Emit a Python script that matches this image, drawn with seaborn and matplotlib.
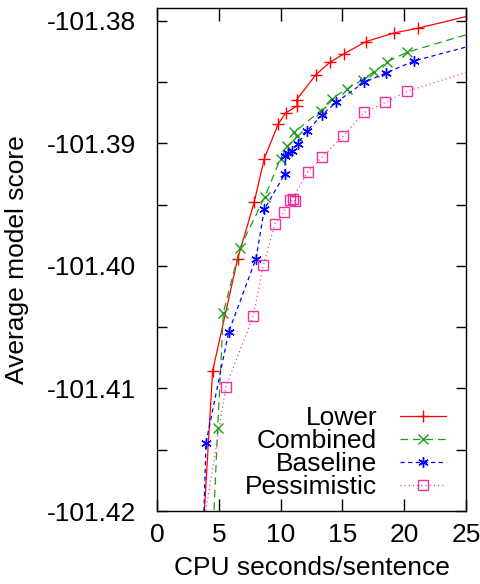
import numpy as np
import pandas as pd
import matplotlib
matplotlib.use("Agg")
import matplotlib.pyplot as plt
from matplotlib.ticker import MultipleLocator, FormatStrFormatter
import seaborn as sns

# ================= DATA =================
# (points at x=26 / y=-101.425 lie outside the view, the lines run off the frame)
lower_x = [3.54, 4.50, 6.53, 7.87, 8.68, 9.81, 10.41, 11.35, 11.30, 12.84,
           14.00, 15.13, 16.90, 19.20, 21.10, 26.0]
lower_y = [-101.4250, -101.40858, -101.39941, -101.39478, -101.39125, -101.38843,
           -101.38753, -101.38694, -101.38645, -101.38442, -101.38339, -101.38271,
           -101.38171, -101.38100, -101.38062, -101.37943]

combined_x = [4.39, 4.91, 5.37, 6.72, 8.71, 10.00, 10.54, 11.30, 11.10, 13.24,
              14.13, 15.35, 16.64, 17.58, 18.63, 20.25, 26.0]
combined_y = [-101.4250, -101.41325, -101.40381, -101.39852, -101.39440, -101.39125,
              -101.39025, -101.38944, -101.38911, -101.38735, -101.38637, -101.38558,
              -101.38482, -101.38415, -101.38336, -101.38257, -101.38086]

baseline_x = [3.66, 3.96, 5.80, 8.01, 8.68, 10.36, 10.36, 10.63, 10.90, 11.38,
              12.16, 13.37, 14.48, 16.75, 18.50, 20.82, 26.0]
baseline_y = [-101.4250, -101.41444, -101.40539, -101.39941, -101.39540, -101.39247,
              -101.39107, -101.39079, -101.39066, -101.39006, -101.38898, -101.38767,
              -101.38667, -101.38504, -101.38428, -101.38328, -101.38189]

pess_x = [3.13, 5.58, 7.79, 8.60, 9.55, 10.28, 10.76, 11.17, 10.98, 12.19,
          13.37, 15.08, 16.77, 18.47, 20.20, 26.0]
pess_y = [-101.4250, -101.40986, -101.40408, -101.39996, -101.39657, -101.39559,
          -101.39467, -101.39473, -101.39451, -101.39234, -101.39112, -101.38938,
          -101.38749, -101.38667, -101.38578, -101.38391]

series = [
    ("Lower", lower_x, lower_y, "#ff0000", "-", "+", 9),
    ("Combined", combined_x, combined_y, "#1b9e1b", (0, (5.5, 3.5)), "x", 6.5),
    ("Baseline", baseline_x, baseline_y, "#0000ff", (0, (3, 2.5)), (6, 2, 0), 7.5),
    ("Pessimistic", pess_x, pess_y, "#f0329a", (0, (0.8, 2.2)), "s", 6.5),
]

# ================= STYLE =================
sns.set_style("ticks")
plt.rcParams["font.family"] = ["Liberation Sans", "DejaVu Sans"]
plt.rcParams["font.size"] = 19
plt.rcParams["axes.unicode_minus"] = False
plt.rcParams["lines.scale_dashes"] = False
plt.rcParams["text.color"] = "black"
plt.rcParams["axes.labelcolor"] = "black"
plt.rcParams["xtick.color"] = "black"
plt.rcParams["ytick.color"] = "black"

fig = plt.figure(figsize=(4.81, 5.84), dpi=100)
ax = fig.add_axes([157 / 481, 1 - 511 / 584, 309 / 481, 503 / 584])

# ================= PLOT =================
for name, xs, ys, col, ls, mk, ms in series:
    df = pd.DataFrame({"x": xs, "y": ys})
    sns.lineplot(data=df, x="x", y="y", ax=ax, sort=False, estimator=None,
                 color=col, linestyle=ls, linewidth=0.9, marker=mk,
                 markersize=ms, markeredgewidth=1.0, markerfacecolor="none",
                 markeredgecolor=col, label=name)

ax.set_xlim(0, 25)
ax.set_ylim(-101.42, -101.37897)
ax.xaxis.set_major_locator(MultipleLocator(5))
ax.yaxis.set_major_locator(MultipleLocator(0.01))
ax.yaxis.set_minor_locator(MultipleLocator(0.005))
ax.yaxis.set_major_formatter(FormatStrFormatter("%.2f"))

ax.tick_params(axis="both", which="both", direction="in", top=True, right=True,
               width=1.0, colors="black", labelcolor="black")
ax.tick_params(axis="x", which="major", length=9, pad=9)
ax.tick_params(axis="y", which="both", length=7, pad=15)
for s in ax.spines.values():
    s.set_linewidth(1.0)
    s.set_color("black")

ax.set_xlabel("CPU seconds/sentence", labelpad=6, color="black")
ax.set_ylabel("Average model score", labelpad=13, color="black")

leg = ax.legend(loc="lower right", bbox_to_anchor=(0.973, 0.0),
                markerfirst=False, frameon=False,
                handlelength=1.75, handletextpad=0.85, labelspacing=-0.04,
                borderaxespad=0.0, borderpad=0.45, fontsize=19)
for t in leg.get_texts():
    t.set_color("black")

fig.savefig("out.png", dpi=100)
plt.close()
